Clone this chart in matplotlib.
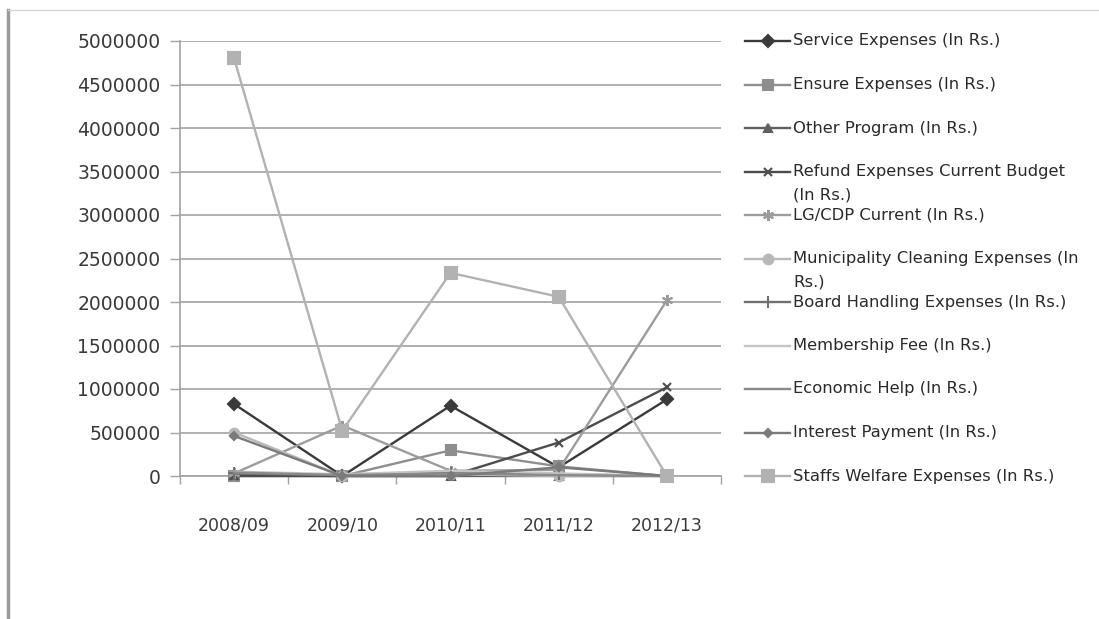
import matplotlib
matplotlib.use("Agg")
import matplotlib.pyplot as plt
from matplotlib.lines import Line2D

# Fiscal years on the category axis
years = ["2008/09", "2009/10", "2010/11", "2011/12", "2012/13"]

# Expenditure series (In Rs.)
service_expenses = [827000, 0, 808000, 100000, 880000]
ensure_expenses = [0, 0, 295000, 110000, 0]
other_program = [10000, 0, 0, 0, 0]
refund_expenses = [0, 0, 0, 385000, 1020000]
lg_cdp_current = [30000, 580000, 60000, 70000, 2020000]
municipality_cleaning = [500000, 0, 20000, 0, 0]
board_handling = [30000, 10000, 40000, 20000, 0]
membership_fee = [50000, 20000, 60000, 30000, 0]
economic_help = [40000, 10000, 30000, 10000, 0]
interest_payment = [460000, 0, 0, 100000, 0]
staffs_welfare = [4800000, 520000, 2335000, 2060000, 0]

y_ticks = [0, 500000, 1000000, 1500000, 2000000, 2500000,
           3000000, 3500000, 4000000, 4500000, 5000000]

series = [
    ("Service Expenses (In Rs.)", service_expenses, "#3a3a3a", "D", 6),
    ("Ensure Expenses (In Rs.)", ensure_expenses, "#8e8e8e", "s", 7),
    ("Other Program (In Rs.)", other_program, "#606060", "^", 6),
    ("Refund Expenses Current Budget\n(In Rs.)", refund_expenses, "#4c4c4c", "x", 6),
    ("LG/CDP Current (In Rs.)", lg_cdp_current, "#9c9c9c", (6, 2, 0), 8),
    ("Municipality Cleaning Expenses (In\nRs.)", municipality_cleaning, "#b8b8b8", "o", 7),
    ("Board Handling Expenses (In Rs.)", board_handling, "#707070", "+", 8),
    ("Membership Fee (In Rs.)", membership_fee, "#c4c4c4", None, 0),
    ("Economic Help (In Rs.)", economic_help, "#8a8a8a", None, 0),
    ("Interest Payment (In Rs.)", interest_payment, "#7a7a7a", "D", 4),
    ("Staffs Welfare Expenses (In Rs.)", staffs_welfare, "#b2b2b2", "s", 8),
]

W, H = 1099, 619
plt.rcParams["font.family"] = ["DejaVu Sans"]
fig = plt.figure(figsize=(W / 100, H / 100), dpi=100)
fig.patch.set_facecolor("white")

ax = fig.add_axes([180 / W, 1 - 476 / H, (721 - 180) / W, (476 - 41) / H])
x = list(range(len(years)))

for label, vals, color, marker, ms in series:
    ax.plot(x, vals, color=color, lw=1.7, marker=marker, markersize=ms,
            markeredgecolor=color, markerfacecolor=color, markeredgewidth=1.5,
            clip_on=False, zorder=3)

ax.set_xlim(-0.5, len(years) - 0.5)
ax.set_ylim(0, 5000000)
ax.set_yticks(y_ticks)
ax.set_yticklabels([str(v) for v in y_ticks])
ax.yaxis.grid(True, color="#a2a2a2", lw=1.2)
ax.set_axisbelow(True)

ax.set_xticks(x)
ax.set_xticklabels(years)
ax.set_xticks([i - 0.5 for i in range(len(years) + 1)], minor=True)
ax.tick_params(axis="x", which="major", length=0, pad=29, labelsize=12.5,
               labelcolor="#3a3a3a")
ax.tick_params(axis="x", which="minor", length=6, width=1, color="#a2a2a2",
               direction="out")
ax.tick_params(axis="y", length=7, width=1, color="#a2a2a2", pad=7,
               labelsize=13.5, labelcolor="#3a3a3a")

for side in ("top", "right"):
    ax.spines[side].set_visible(False)
ax.spines["left"].set_color("#a2a2a2")
ax.spines["bottom"].set_color("#a2a2a2")
ax.spines["left"].set_linewidth(1.2)
ax.spines["bottom"].set_linewidth(1.2)

# Legend drawn entry by entry, one row per gridline
lx0, lx1, tx = 745 / W, 790 / W, 793 / W
for i, (label, vals, color, marker, ms) in enumerate(series):
    yy = 1 - (41 + i * 43.5) / H
    fig.add_artist(Line2D([lx0, lx1], [yy, yy], transform=fig.transFigure,
                          color=color, lw=1.7))
    if marker is not None:
        fig.add_artist(Line2D([(lx0 + lx1) / 2], [yy], transform=fig.transFigure,
                              color=color, marker=marker, markersize=ms,
                              markeredgecolor=color, markerfacecolor=color,
                              markeredgewidth=1.5))
    for j, part in enumerate(label.split("\n")):
        fig.text(tx, yy - j * 23 / H, part, va="center", ha="left",
                 fontsize=11.8, color="#2a2a2a")

# Chart area border
fig.add_artist(Line2D([8 / W, 8 / W], [0, 1 - 10 / H], transform=fig.transFigure,
                      color="#9a9a9a", lw=2.5))
fig.add_artist(Line2D([8 / W, 1], [1 - 10 / H, 1 - 10 / H], transform=fig.transFigure,
                      color="#d4d4d4", lw=1))

fig.savefig("out.png", dpi=100, facecolor="white")
